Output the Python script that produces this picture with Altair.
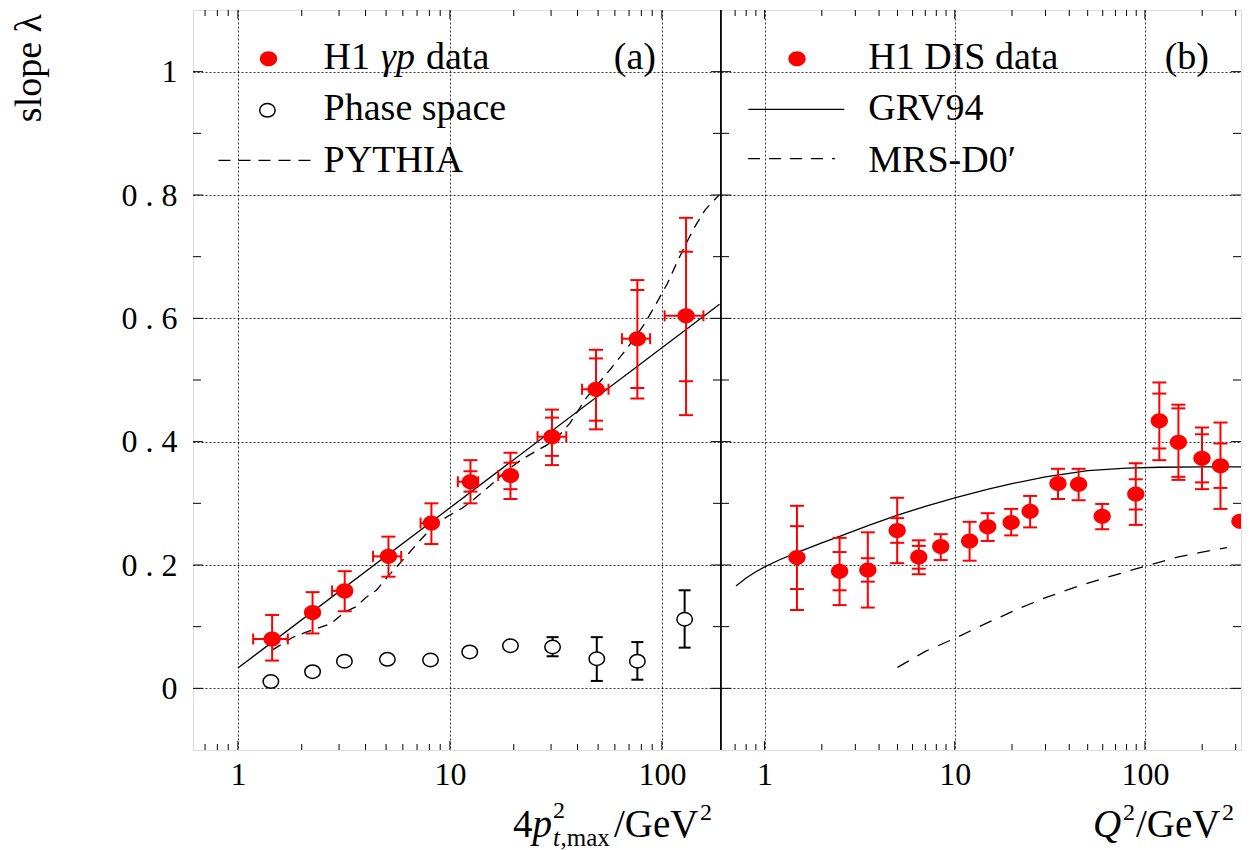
import altair as alt
import pandas as pd

FONT = "Liberation Serif"
RED = "#ff0000"

# ---------------- panel (a): H1 gamma-p data ----------------
gp_x = [1.45, 2.25, 3.19, 5.13, 8.18, 12.5, 19.3, 30.3, 48.9, 76.6, 130]
gp_y = [0.080, 0.123, 0.158, 0.214, 0.268, 0.335, 0.345, 0.408, 0.485, 0.567, 0.604]
gp_hi = [0.119, 0.156, 0.190, 0.246, 0.300, 0.370, 0.382, 0.452, 0.549, 0.662, 0.763]
gp_lo = [0.045, 0.089, 0.125, 0.181, 0.234, 0.300, 0.307, 0.362, 0.420, 0.470, 0.443]
gp_stat_hi = [None, None, None, None, None, 0.352, 0.366, 0.439, 0.535, 0.646, 0.708]
gp_stat_lo = [None, None, None, None, None, 0.319, 0.323, 0.377, 0.434, 0.487, 0.498]
gp_xlo = [1.18, None, 2.78, 4.34, 7.27, 10.9, 16.9, 25.9, 42.0, 64.8, 103]
gp_xhi = [1.72, None, 3.35, 5.89, 8.6, 13.6, 20.3, 35.4, 56.0, 88.0, 157]

# phase space
ps_x = [1.43, 2.25, 3.18, 5.07, 8.1, 12.4, 19.3, 30.5, 49.3, 76.6, 128]
ps_y = [0.011, 0.027, 0.044, 0.047, 0.046, 0.059, 0.069, 0.067, 0.048, 0.044, 0.112]
ps_hi = [None, None, None, None, None, None, None, 0.083, 0.083, 0.075, 0.159]
ps_lo = [None, None, None, None, None, None, None, 0.052, 0.012, 0.014, 0.066]

# straight-line fit (solid)
fit_x = [1.0, 187]
fit_y = [0.033, 0.623]

# PYTHIA (dashed)
py_x = [1.45, 1.8, 2.1, 2.5, 2.75, 3.2, 3.6, 4.0, 4.5, 5.0, 5.4, 6.4, 7.1, 8.0, 9.0,
        10.0, 11.4, 12.3, 14.2, 15.5, 18.5, 22, 25, 28.5, 31.5, 34, 37, 44, 57, 68,
        82.5, 93, 106, 117.5, 130, 141, 160, 186]
py_y = [0.062, 0.082, 0.091, 0.100, 0.105, 0.124, 0.132, 0.147, 0.159, 0.178, 0.191,
        0.219, 0.237, 0.256, 0.271, 0.281, 0.292, 0.300, 0.318, 0.329, 0.353, 0.372,
        0.383, 0.394, 0.405, 0.416, 0.431, 0.471, 0.517, 0.550, 0.590, 0.621, 0.656,
        0.690, 0.721, 0.745, 0.776, 0.800]

# ---------------- panel (b): H1 DIS data ----------------
dis_x = [1.48, 2.48, 3.49, 4.98, 6.47, 8.44, 11.97, 14.9, 19.8, 24.9, 34.9, 44.8,
         59.6, 89.5, 119, 150, 199.5, 249.6, 316]
dis_y = [0.212, 0.190, 0.192, 0.256, 0.213, 0.230, 0.239, 0.262, 0.269, 0.287, 0.332,
         0.331, 0.279, 0.315, 0.434, 0.399, 0.373, 0.361, 0.271]
dis_hi = [0.296, 0.244, 0.253, 0.309, 0.240, 0.250, 0.270, 0.284, 0.291, 0.312, 0.356,
          0.356, 0.299, 0.365, 0.496, 0.460, 0.423, 0.431, None]
dis_lo = [0.127, 0.135, 0.131, 0.203, 0.185, 0.208, 0.207, 0.239, 0.248, 0.261, 0.307,
          0.305, 0.258, 0.265, 0.370, 0.338, 0.323, 0.291, None]
dis_stat_hi = [0.263, 0.221, 0.211, 0.276, 0.231, None, None, None, None, None, None,
               None, None, 0.339, 0.478, 0.454, 0.412, 0.397, None]
dis_stat_lo = [0.161, 0.159, 0.173, 0.236, 0.194, None, None, None, None, None, None,
               None, None, 0.290, 0.389, 0.343, 0.334, 0.325, None]

grv_x = [0.707, 0.8, 0.9, 1.0, 1.2, 1.5, 2.0, 2.5, 3.5, 5.0, 7.0, 10, 15, 20, 30,
         50, 80, 120, 200, 320]
grv_y = [0.166, 0.179, 0.189, 0.197, 0.2085, 0.221, 0.236, 0.247, 0.264, 0.281, 0.295,
         0.309, 0.323, 0.332, 0.343, 0.353, 0.357, 0.3585, 0.359, 0.359]

mrs_x = [5, 7, 10, 15, 22, 30, 44, 60, 100, 150, 200, 270]
mrs_y = [0.034, 0.060, 0.081, 0.107, 0.130, 0.147, 0.165, 0.178, 0.198, 0.213, 0.221, 0.228]

# axis ticks
y_major = [0, 0.2, 0.4, 0.6, 0.8, 1.0]
y_minor = [0.1, 0.3, 0.5, 0.7, 0.9]
x_major = [1, 10, 100]
x_minor_a = [0.7, 0.8, 0.9, 2, 3, 4, 5, 6, 7, 8, 9, 20, 30, 40, 50, 60, 70, 80, 90]
x_minor_b = x_minor_a + [200, 300]

W_A, W_B, H = 528, 520, 740
ELL = "M -1 0 A 1 0.87 0 1 0 1 0 A 1 0.87 0 1 0 -1 0 Z"
LEG = 38   # legend font size
TIT = 39   # axis-title font size
SUP = 24   # super/subscript font size

ys = alt.Scale(domain=[-0.1, 1.1], nice=False, zero=False)


def xaxis():
    return alt.Axis(values=x_major, grid=True, gridDash=[2, 2], gridColor="black",
                    gridWidth=0.8, gridOpacity=1, ticks=False, domain=False,
                    labelFont=FONT, labelFontSize=32, labelPadding=9,
                    labelColor="black", format="d", title=None)


def yaxis(labels):
    if labels:
        return alt.Axis(values=y_major, grid=True, gridDash=[2, 2], gridColor="black",
                        gridWidth=0.8, gridOpacity=1, ticks=False, domain=False,
                        labelFont=FONT, labelFontSize=32, labelPadding=16,
                        labelColor="black", title=None,
                        labelExpr="datum.value == 0 ? '0' : datum.value == 1 ? '1' : "
                                  "replace(format(datum.value, '.1f'), '.', ' . ')")
    return alt.Axis(values=y_major, grid=True, gridDash=[2, 2], gridColor="black",
                    gridWidth=0.8, gridOpacity=1, ticks=False, domain=False,
                    labels=False, title=None)


ONE = alt.Data(values=[{"k": 1}])


def txt(s, x, y, size=LEG, style="normal", align="left", angle=0, baseline="alphabetic"):
    return alt.Chart(ONE).mark_text(
        text=s, font=FONT, fontSize=size, fontStyle=style, align=align,
        baseline=baseline, angle=angle, color="black"
    ).encode(x=alt.value(x), y=alt.value(y))


def frame_ticks(X, Y, width, x_minor):
    lay = []
    ymaj = pd.DataFrame({"v": y_major})
    ymin = pd.DataFrame({"v": y_minor})
    for df, ln in ((ymaj, 10), (ymin, 8)):
        lay.append(alt.Chart(df).mark_rule(color="black", strokeWidth=1).encode(
            y=Y("v"), x=alt.value(0), x2=alt.value(ln)))
        lay.append(alt.Chart(df).mark_rule(color="black", strokeWidth=1).encode(
            y=Y("v"), x=alt.value(width - ln), x2=alt.value(width)))
    xmaj = pd.DataFrame({"v": x_major})
    xmin = pd.DataFrame({"v": x_minor})
    for df, ln in ((xmaj, 9), (xmin, 6)):
        lay.append(alt.Chart(df).mark_rule(color="black", strokeWidth=1).encode(
            x=X("v"), y=alt.value(H), y2=alt.value(H - ln)))
        lay.append(alt.Chart(df).mark_rule(color="black", strokeWidth=1).encode(
            x=X("v"), y=alt.value(0), y2=alt.value(ln)))
    return lay


def data_layers(df, X, Y, color, cap, hbars, stat, shape_layer):
    lay = []
    v = alt.Chart(df).transform_filter("isValid(datum.hi)")
    lay.append(v.mark_rule(color=color, strokeWidth=2, clip=True).encode(
        x=X("x"), y=Y("lo"), y2=alt.Y2("hi")))
    for f in ("lo", "hi"):
        lay.append(v.mark_tick(orient="horizontal", size=cap, thickness=2, color=color,
                               opacity=1, clip=True).encode(x=X("x"), y=Y(f)))
    if stat:
        s = alt.Chart(df).transform_filter("isValid(datum.shi)")
        for f in ("slo", "shi"):
            lay.append(s.mark_tick(orient="horizontal", size=cap, thickness=2,
                                   color=color, opacity=1, clip=True).encode(
                x=X("x"), y=Y(f)))
    if hbars:
        h = alt.Chart(df).transform_filter("isValid(datum.xlo)")
        lay.append(h.mark_rule(color=color, strokeWidth=2, clip=True).encode(
            x=X("xlo"), x2=alt.X2("xhi"), y=Y("y")))
        for f in ("xlo", "xhi"):
            lay.append(h.mark_tick(orient="vertical", size=11, thickness=2, color=color,
                                   opacity=1, clip=True).encode(x=X(f), y=Y("y")))
    lay.append(shape_layer(alt.Chart(df)).encode(x=X("x"), y=Y("y")))
    return lay


def red_dots(c):
    return c.mark_point(shape=ELL, size=300, filled=True, color=RED, opacity=1, clip=True)


def open_circ(c):
    return c.mark_point(shape=ELL, size=240, filled=True, fill="white", stroke="black",
                        strokeWidth=1.5, opacity=1, clip=True)


def border(x):
    return alt.Chart(ONE).mark_rule(color="black", strokeWidth=1.6).encode(
        x=alt.value(x), y=alt.value(0), y2=alt.value(H))


# ---------------- panel (a) ----------------
xs_a = alt.Scale(type="log", domain=[0.614, 190], nice=False)
XA = lambda f: alt.X(f, type="quantitative", scale=xs_a, axis=xaxis())
YA = lambda f: alt.Y(f, type="quantitative", scale=ys, axis=yaxis(True))

gp_df = pd.DataFrame({"x": gp_x, "y": gp_y, "hi": gp_hi, "lo": gp_lo,
                      "shi": gp_stat_hi, "slo": gp_stat_lo, "xlo": gp_xlo, "xhi": gp_xhi})
ps_df = pd.DataFrame({"x": ps_x, "y": ps_y, "hi": ps_hi, "lo": ps_lo})

layers_a = frame_ticks(XA, YA, W_A, x_minor_a)
layers_a.append(alt.Chart(pd.DataFrame({"x": fit_x, "y": fit_y})).mark_line(
    color="black", strokeWidth=1.3, clip=True).encode(x=XA("x"), y=YA("y")))
layers_a.append(alt.Chart(pd.DataFrame({"x": py_x, "y": py_y})).mark_line(
    color="black", strokeWidth=1.3, strokeDash=[10, 7], clip=True).encode(
    x=XA("x"), y=YA("y")))
layers_a += data_layers(ps_df, XA, YA, "black", 12, False, False, open_circ)
layers_a += data_layers(gp_df, XA, YA, RED, 14, True, True, red_dots)
layers_a.append(border(W_A))
# invisible anchor fixing the left extent of the whole figure
layers_a.append(alt.Chart(ONE).mark_rule(color="white", strokeWidth=1).encode(
    x=alt.value(-184), y=alt.value(300), y2=alt.value(301)))

# legend (a)
layers_a.append(alt.Chart(ONE).mark_point(shape=ELL, size=300, filled=True, color=RED,
                                          opacity=1).encode(x=alt.value(75.5), y=alt.value(48.7)))
layers_a.append(txt("H1", 130.6, 58.7))
layers_a.append(txt("γp", 188, 58.7, style="italic"))
layers_a.append(txt("data", 233, 58.7))
layers_a.append(alt.Chart(ONE).mark_point(shape=ELL, size=240, filled=True, fill="white",
                                          stroke="black", strokeWidth=1.5, opacity=1).encode(
    x=alt.value(74.4), y=alt.value(100.3)))
layers_a.append(txt("Phase space", 130.6, 110.3))
layers_a.append(alt.Chart(ONE).mark_rule(color="black", strokeWidth=1.3,
                                         strokeDash=[12, 8]).encode(
    x=alt.value(25.5), x2=alt.value(123.7), y=alt.value(150.3)))
layers_a.append(txt("PYTHIA", 130.6, 162))
layers_a.append(txt("(a)", 463, 58.7, align="right"))
# y title
layers_a.append(txt("slope λ", -182, 4, size=38, align="right", angle=270, baseline="top"))
# x title (a)
layers_a.append(txt("4", 320, 827, size=TIT))
layers_a.append(txt("p", 339.5, 827, size=TIT, style="italic"))
layers_a.append(txt("2", 360, 808, size=SUP))
layers_a.append(txt("t", 360, 836, size=SUP + 1, style="italic"))
layers_a.append(txt(",max", 367.5, 836, size=SUP + 1))
layers_a.append(txt("/GeV", 421, 827, size=TIT))
layers_a.append(txt("2", 507, 810, size=SUP))

panel_a = alt.layer(*layers_a).properties(width=W_A, height=H)

# ---------------- panel (b) ----------------
xs_b = alt.Scale(type="log", domain=[0.59, 320], nice=False)
XB = lambda f: alt.X(f, type="quantitative", scale=xs_b, axis=xaxis())
YB = lambda f: alt.Y(f, type="quantitative", scale=ys, axis=yaxis(False))

dis_df = pd.DataFrame({"x": dis_x, "y": dis_y, "hi": dis_hi, "lo": dis_lo,
                       "shi": dis_stat_hi, "slo": dis_stat_lo})

layers_b = frame_ticks(XB, YB, W_B, x_minor_b)
layers_b.append(alt.Chart(pd.DataFrame({"x": grv_x, "y": grv_y})).mark_line(
    color="black", strokeWidth=1.3, clip=True).encode(x=XB("x"), y=YB("y")))
layers_b.append(alt.Chart(pd.DataFrame({"x": mrs_x, "y": mrs_y})).mark_line(
    color="black", strokeWidth=1.3, strokeDash=[13, 10], clip=True).encode(
    x=XB("x"), y=YB("y")))
layers_b += data_layers(dis_df, XB, YB, RED, 14, False, True, red_dots)
layers_b.append(border(0))

layers_b.append(alt.Chart(ONE).mark_point(shape=ELL, size=300, filled=True, color=RED,
                                          opacity=1).encode(x=alt.value(76), y=alt.value(48.7)))
layers_b.append(txt("H1 DIS data", 147.3, 58.7))
layers_b.append(alt.Chart(ONE).mark_rule(color="black", strokeWidth=1.3).encode(
    x=alt.value(27.4), x2=alt.value(123.3), y=alt.value(99.3)))
layers_b.append(txt("GRV94", 147.3, 110.3))
layers_b.append(alt.Chart(ONE).mark_rule(color="black", strokeWidth=1.3,
                                         strokeDash=[12, 9]).encode(
    x=alt.value(27), x2=alt.value(114), y=alt.value(148.7)))
layers_b.append(txt("MRS-D0\u2032", 147.3, 162))
layers_b.append(txt("(b)", 488, 58.7, align="right"))
# x title (b)
layers_b.append(txt("Q", 372, 827, size=TIT, style="italic"))
layers_b.append(txt("2", 402, 810, size=SUP))
layers_b.append(txt("/GeV", 415, 827, size=TIT))
layers_b.append(txt("2", 501, 810, size=SUP))

panel_b = alt.layer(*layers_b).properties(width=W_B, height=H)

chart = alt.hconcat(panel_a, panel_b, spacing=0, bounds="flush").properties(
    padding=0
).resolve_scale(x="independent", y="independent").configure_view(
    stroke="black", strokeWidth=1.5
).configure(background="white")

chart.save("out.html", embed_options={"renderer": "svg", "actions": False})
